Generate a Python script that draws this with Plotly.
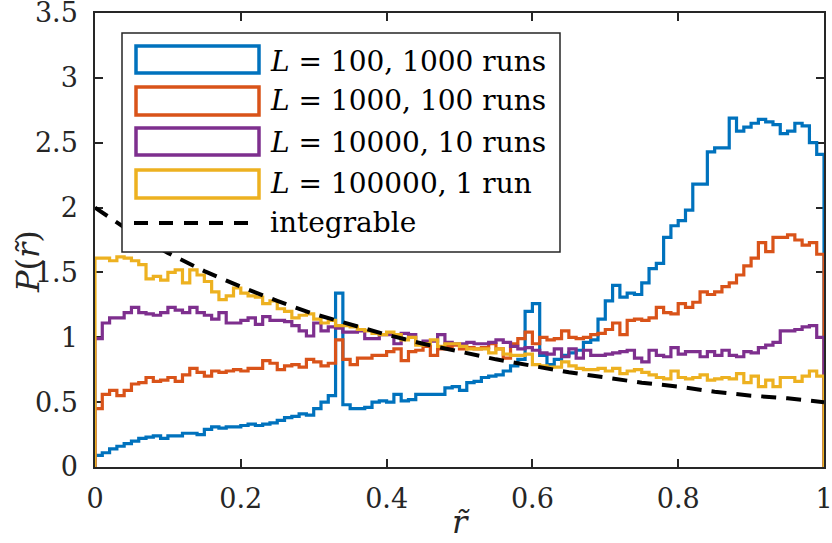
import numpy as np
import plotly.graph_objects as go

# Histogram values (100 bins on [0,1])
blue_vals = [0.09, 0.11, 0.14, 0.16, 0.18, 0.20, 0.22, 0.23, 0.24, 0.22,
             0.24, 0.24, 0.26, 0.26, 0.25, 0.29, 0.31, 0.30, 0.31, 0.31,
             0.32, 0.33, 0.32, 0.33, 0.34, 0.36, 0.38, 0.39, 0.41, 0.40,
             0.45, 0.50, 0.55, 1.34, 0.48, 0.45, 0.45, 0.46, 0.50, 0.51,
             0.50, 0.56, 0.51, 0.52, 0.56, 0.56, 0.56, 0.56, 0.61, 0.62,
             0.59, 0.65, 0.66, 0.69, 0.70, 0.71, 0.74, 0.78, 0.83, 1.20,
             1.26, 0.86, 0.79, 0.83, 0.86, 0.88, 0.90, 0.96, 0.98, 1.14,
             1.28, 1.40, 1.31, 1.34, 1.33, 1.42, 1.53, 1.57, 1.77, 1.86,
             1.90, 1.98, 2.18, 2.18, 2.43, 2.46, 2.46, 2.69, 2.59, 2.62,
             2.65, 2.68, 2.66, 2.64, 2.57, 2.59, 2.65, 2.63, 2.50, 2.41]

orange_vals = [0.45, 0.56, 0.59, 0.55, 0.59, 0.64, 0.65, 0.69, 0.66, 0.67,
               0.69, 0.66, 0.71, 0.76, 0.73, 0.70, 0.74, 0.73, 0.74, 0.75,
               0.74, 0.76, 0.76, 0.82, 0.80, 0.75, 0.78, 0.79, 0.77, 0.83,
               0.81, 0.78, 0.80, 0.98, 0.83, 0.79, 0.84, 0.84, 0.86, 0.86,
               0.89, 0.91, 0.82, 0.89, 0.90, 0.93, 0.86, 0.91, 0.93, 0.94,
               0.91, 0.92, 0.91, 0.92, 0.95, 0.91, 0.84, 0.95, 0.99, 1.04,
               0.95, 1.00, 0.98, 0.99, 1.05, 1.00, 0.99, 1.00, 1.02, 1.03,
               1.06, 1.11, 1.02, 1.13, 1.14, 1.13, 1.15, 1.23, 1.19, 1.18,
               1.26, 1.23, 1.27, 1.35, 1.33, 1.35, 1.39, 1.42, 1.48, 1.55,
               1.61, 1.73, 1.66, 1.77, 1.77, 1.79, 1.75, 1.71, 1.73, 1.64]

purple_vals = [0.99, 1.11, 1.15, 1.15, 1.19, 1.23, 1.19, 1.18, 1.17, 1.19,
               1.23, 1.21, 1.19, 1.23, 1.19, 1.17, 1.14, 1.19, 1.11, 1.11,
               1.13, 1.15, 1.10, 1.16, 1.13, 1.13, 1.12, 1.09, 1.05, 1.01,
               1.11, 1.05, 1.08, 1.07, 1.04, 1.04, 1.05, 0.99, 0.99, 1.02,
               1.02, 0.95, 1.03, 1.02, 0.95, 0.97, 0.97, 1.02, 0.96, 0.95,
               0.95, 0.96, 0.95, 0.95, 0.96, 0.98, 0.96, 0.93, 0.91, 0.92,
               0.90, 0.88, 0.87, 0.91, 0.85, 0.91, 0.84, 0.90, 0.86, 0.86,
               0.87, 0.88, 0.89, 0.90, 0.84, 0.81, 0.90, 0.86, 0.85, 0.92,
               0.87, 0.89, 0.89, 0.85, 0.89, 0.86, 0.90, 0.86, 0.85, 0.89,
               0.88, 0.92, 0.94, 0.96, 1.05, 1.05, 1.06, 1.08, 1.09, 1.00]

yellow_vals = [1.61, 1.61, 1.59, 1.62, 1.61, 1.59, 1.56, 1.45, 1.47, 1.44,
               1.50, 1.52, 1.42, 1.52, 1.48, 1.43, 1.35, 1.29, 1.32, 1.38,
               1.34, 1.32, 1.31, 1.26, 1.28, 1.22, 1.20, 1.15, 1.17, 1.18,
               1.14, 1.11, 1.13, 1.09, 1.09, 1.08, 1.06, 1.05, 1.03, 1.02,
               1.04, 1.02, 0.98, 1.00, 0.94, 0.95, 0.98, 0.93, 0.95, 0.95,
               0.93, 0.91, 0.91, 0.91, 0.88, 0.91, 0.87, 0.86, 0.86, 0.87,
               0.79, 0.78, 0.77, 0.77, 0.81, 0.78, 0.76, 0.75, 0.75, 0.76,
               0.74, 0.76, 0.72, 0.74, 0.75, 0.73, 0.71, 0.69, 0.68, 0.74,
               0.69, 0.68, 0.69, 0.71, 0.67, 0.68, 0.69, 0.68, 0.72, 0.65,
               0.70, 0.62, 0.67, 0.62, 0.69, 0.69, 0.66, 0.70, 0.74, 0.70]

# integrable reference curve
r_int = [0.0, 0.05, 0.1, 0.15, 0.2, 0.25, 0.3, 0.35, 0.4, 0.45, 0.5,
         0.55, 0.6, 0.65, 0.7, 0.75, 0.8, 0.85, 0.9, 0.95, 1.0]
p_int = [2.00, 1.81, 1.65, 1.51, 1.39, 1.28, 1.18, 1.10, 1.02, 0.95, 0.89,
         0.83, 0.78, 0.73, 0.69, 0.65, 0.62, 0.58, 0.55, 0.53, 0.50]

labels = ["<i>L</i> = 100, 1000 runs", "<i>L</i> = 1000, 100 runs",
          "<i>L</i> = 10000, 10 runs", "<i>L</i> = 100000, 1 run", "integrable"]
colors = ["#0072BD", "#D95319", "#7E2F8E", "#EDB120"]

FONT = "DejaVu Serif"
AX = "#262626"

def stairs(vals):
    n = len(vals)
    edges = np.linspace(0, 1, n + 1)
    x = [0.0] + list(edges[:-1]) + [1.0, 1.0]
    y = [0.0] + list(vals) + [vals[-1], 0.0]
    return x, y

fig = go.Figure()
for vals, c in zip([blue_vals, orange_vals, purple_vals, yellow_vals], colors):
    x, y = stairs(vals)
    fig.add_trace(go.Scatter(x=x, y=y, mode="lines", line=dict(color=c, width=3.2, shape="hv"),
                             showlegend=False, hoverinfo="skip"))
fig.add_trace(go.Scatter(x=r_int, y=p_int, mode="lines",
                         line=dict(color="black", width=4, dash="15px,10px"),
                         showlegend=False, hoverinfo="skip"))

L, R, T, B = 95, 8, 13, 76
W, H = 832, 543
PW, PH = W - L - R, H - T - B

def px(xp):
    return (xp - L) / PW

def py(yp):
    return (H - B - yp) / PH

shapes = []
shapes.append(dict(type="rect", xref="paper", yref="paper", x0=px(122), x1=px(560),
                   y0=py(252), y1=py(33), line=dict(color=AX, width=1.5), fillcolor="white",
                   layer="above"))
rows = [(46, 73), (87, 115), (128, 155), (170, 198)]
for (ya, yb), c in zip(rows, colors):
    shapes.append(dict(type="rect", xref="paper", yref="paper", x0=px(136), x1=px(259),
                       y0=py(yb), y1=py(ya), line=dict(color=c, width=3.5),
                       fillcolor="rgba(0,0,0,0)", layer="above"))
shapes.append(dict(type="line", xref="paper", yref="paper", x0=px(134), x1=px(249),
                   y0=py(223), y1=py(223), line=dict(color="black", width=4, dash="14px,11px"),
                   layer="above"))

annotations = []
for lab, yc in zip(labels, [61, 101, 142, 183, 222]):
    annotations.append(dict(text=lab, xref="paper", yref="paper", x=px(268), y=py(yc),
                            xanchor="left", yanchor="middle", showarrow=False,
                            font=dict(family=FONT, size=28, color="black")))
annotations.append(dict(text="<i>P</i>(<i>r\u0303</i>)", xref="paper", yref="paper",
                        x=px(28), y=py(262), textangle=-90, xanchor="center", yanchor="middle",
                        showarrow=False, font=dict(family=FONT, size=32, color=AX)))
annotations.append(dict(text="<i>r\u0303</i>", xref="paper", yref="paper",
                        x=px(461), y=py(522), xanchor="center", yanchor="middle",
                        showarrow=False, font=dict(family=FONT, size=32, color=AX)))

axis_common = dict(showline=True, linecolor=AX, linewidth=1.5, mirror="ticks",
                   ticks="inside", ticklen=8, tickwidth=1.5, tickcolor=AX,
                   showgrid=False, zeroline=False, layer="below traces",
                   ticklabeloverflow="allow", automargin=False,
                   tickfont=dict(family=FONT, size=27, color=AX))

fig.update_layout(
    width=W, height=H,
    margin=dict(l=L, r=R, t=T, b=B, pad=0, autoexpand=False),
    paper_bgcolor="white", plot_bgcolor="white",
    font=dict(family=FONT),
    shapes=shapes, annotations=annotations,
    xaxis=dict(range=[0, 1], tickvals=[0, 0.2, 0.4, 0.6, 0.8, 1],
               ticktext=["0", "0.2", "0.4", "0.6", "0.8", "1"], ticklabelstandoff=7, **axis_common),
    yaxis=dict(range=[0, 3.5], tickvals=[0, 0.5, 1, 1.5, 2, 2.5, 3, 3.5],
               ticktext=["0", "0.5", "1", "1.5", "2", "2.5", "3", "3.5"], ticklabelstandoff=10,
               **axis_common),
)

fig.write_html("out.html")
